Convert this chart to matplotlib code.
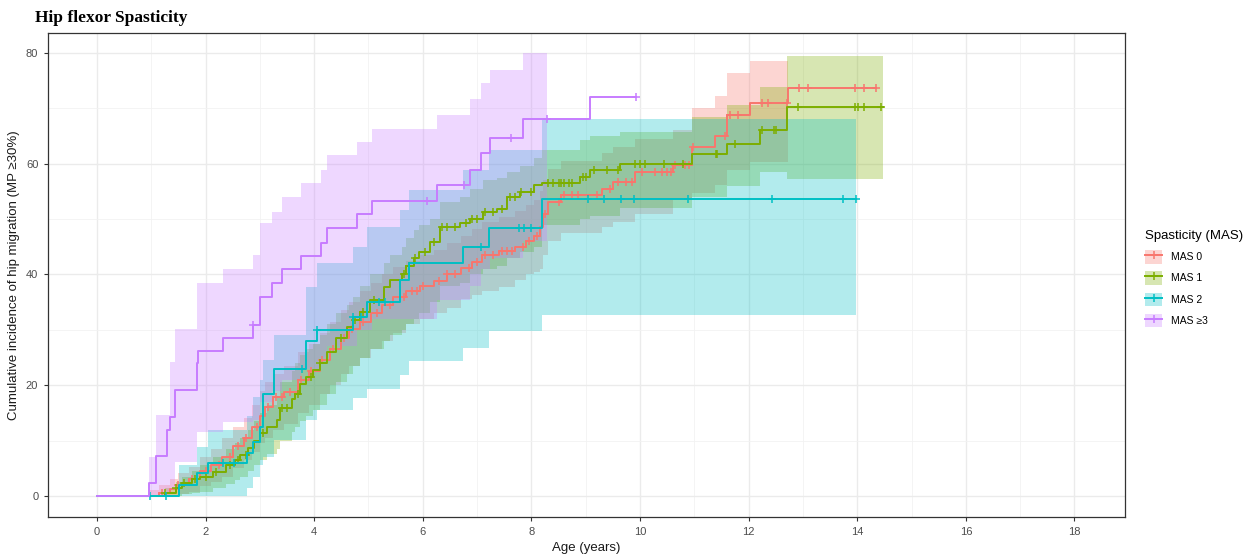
import numpy as np
import matplotlib
matplotlib.use("Agg")
import matplotlib.pyplot as plt
from matplotlib.patches import Patch
from matplotlib.lines import Line2D

plt.rcParams["font.family"] = ["Liberation Sans", "DejaVu Sans"]

# ---------------- data ----------------
groups = ["MAS 0", "MAS 1", "MAS 2", "MAS \u22653"]
colors = ["#F8766D", "#7CAE00", "#00BFC4", "#C77CFF"]

# MAS 0 step curve
mas0_t = [0, 0.95, 1.15, 1.35, 1.5, 1.7, 1.9, 2.1, 2.3, 2.5, 2.7, 2.85, 3.0, 3.1, 3.25, 3.45, 3.7, 3.9,
          4.1, 4.3, 4.5, 4.65, 4.85, 5.05, 5.25, 5.45, 5.7, 5.95, 6.2, 6.45, 6.7, 6.9, 7.1, 7.4, 7.7,
          7.9, 8.05, 8.15, 8.22, 8.3, 8.55, 9.3, 9.5, 9.9, 10.6, 10.95, 11.38, 11.6, 12.03, 12.73]
mas0_v = [0, 0, 0.5, 1.2, 2, 3, 4.5, 5.5, 7, 9, 10.5, 12.5, 14.5, 16, 17.8, 18.8, 21, 22.5,
          24.5, 26.5, 28.5, 30.2, 31.5, 33, 34.5, 36, 37, 38, 38.8, 40, 41.2, 42.3, 43.5, 44.2, 45,
          46, 47, 48.5, 51, 53, 54.3, 55.4, 56.7, 58.5, 59.7, 63.1, 65.0, 68.8, 71.0, 73.6]
mas0_end = 14.35
mas0_band_t = [0.95, 1.15, 1.35, 1.5, 1.7, 1.9, 2.1, 2.3, 2.5, 2.7, 2.85, 3.0, 3.1, 3.25, 3.45, 3.7,
               3.9, 4.1, 4.3, 4.5, 4.65, 4.85, 5.05, 5.25, 5.45, 5.7, 5.95, 6.2, 6.45, 6.7, 6.9, 7.1,
               7.4, 7.7, 7.9, 8.05, 8.15, 8.22, 8.3, 8.55, 9.3, 9.5, 9.9, 10.6, 10.95, 11.38, 11.6, 12.03]
mas0_lo = [0, 0, 0, 0.3, 0.8, 1.8, 2.5, 3.5, 5, 6.5, 8, 9.5, 10.5, 12, 13, 15,
           16.5, 18.5, 20, 22, 23.5, 25, 26.5, 28, 29.5, 31, 32, 33, 34, 35.5, 36.3, 37,
           37.8, 39, 40, 40.5, 41, 43.5, 46, 47.5, 48.5, 49.5, 51, 53.4, 54.7, 56.1, 58.8, 60.3]
mas0_hi = [1, 2, 3, 4.2, 5.3, 7, 8.5, 10.5, 12.5, 14, 16.5, 19, 20.5, 22, 23.5, 26,
           27.5, 29.5, 31.5, 33.5, 35, 37, 38.5, 40, 41.3, 42.5, 43.5, 44.5, 45.7, 47, 48.2, 49.5,
           50.3, 51.5, 52.5, 53.5, 55, 57, 59, 60.5, 62, 63, 64.5, 66, 70, 72.2, 76.4, 78.6]
mas0_band_end = 12.73
mas0_cens = [1.2, 1.5, 1.75, 2.0, 2.25, 2.45, 2.6, 2.75, 2.95, 3.15, 3.3, 3.4, 3.55, 3.75, 3.95, 4.15,
             4.35, 4.55, 4.7, 4.9, 5.15, 5.4, 5.65, 5.8, 5.9, 6.0, 6.3, 6.45, 6.6, 6.85, 7.0, 7.15,
             7.3, 7.45, 7.55, 7.65, 7.85, 7.95, 8.1, 8.25, 8.5, 8.6, 8.75, 8.85, 9.2, 9.45, 9.6,
             9.75, 9.85, 10.03, 10.28, 10.4, 10.49, 10.58, 10.64, 10.83, 10.91, 10.98, 11.57,
             11.65, 11.8, 12.24, 12.36, 12.7, 12.93, 13.09, 13.96, 14.12, 14.35]

# MAS 1 step curve
mas1_t = [0, 1.2, 1.25, 1.45, 1.56, 1.75, 1.9, 2.14, 2.38, 2.55, 2.63, 2.79, 2.9, 3.0, 3.13, 3.31, 3.37,
          3.6, 3.65, 3.74, 3.85, 3.98, 4.1, 4.23, 4.4, 4.6, 4.72, 4.85, 5.03, 5.28, 5.4, 5.61, 5.7,
          5.83, 5.94, 6.13, 6.32, 6.69, 6.87, 7.11, 7.36, 7.55, 7.79, 8.04, 8.2, 8.9, 9.08, 9.63,
          10.95, 11.6, 12.21, 12.70]
mas1_v = [0, 0, 0.5, 1.5, 2.3, 3, 3.5, 4.4, 5.6, 6.5, 7.4, 8.6, 10, 11.3, 12.5, 13.7, 15.8,
          17.5, 18.5, 20.3, 21.5, 22.7, 24, 26.0, 28.5, 30.5, 31.8, 33.3, 35.4, 37.8, 39, 40, 41.5,
          42.9, 44.1, 45.9, 48.6, 49.2, 50.1, 51.3, 51.9, 54, 54.9, 56.1, 56.5, 57.6, 58.8, 60.0,
          61.7, 63.5, 66.1, 70.3]
mas1_end = 14.47
mas1_band_t = [1.2, 1.25, 1.45, 1.56, 1.75, 1.9, 2.14, 2.38, 2.55, 2.63, 2.79, 2.9, 3.0, 3.13, 3.31,
               3.37, 3.6, 3.65, 3.74, 3.85, 3.98, 4.1, 4.23, 4.4, 4.6, 4.72, 4.85, 5.03, 5.28, 5.4,
               5.61, 5.7, 5.83, 5.94, 6.13, 6.32, 6.69, 6.87, 7.11, 7.36, 7.55, 7.79, 8.04, 8.2, 8.9,
               9.08, 9.63, 10.95, 11.6, 12.21, 12.70]
mas1_lo = [0, 0, 0, 0.3, 0.5, 0.8, 1.5, 2.2, 2.8, 3.5, 4.5, 5.5, 6.5, 7.5, 8.5,
           10, 11.5, 12.5, 13.5, 14.5, 15.5, 16.5, 18.5, 20.5, 22, 23.5, 25, 26.5, 28, 29,
           30, 31, 32, 33, 35, 38, 38.5, 40, 41, 41.5, 43, 44, 45, 49, 50,
           50.5, 52, 54, 56, 58.5, 57.2]
mas1_hi = [0.5, 1.5, 2.5, 3.5, 4.5, 5.5, 7, 8.5, 9.5, 10.5, 12, 13.5, 15, 16.5, 18,
           20.5, 22.5, 24, 25.5, 26.5, 27.5, 29, 31, 33, 34.5, 36, 38, 40, 42, 43.5,
           45, 46.5, 48, 49, 50, 53, 54, 55.5, 57, 57.5, 58.5, 59.5, 61, 62.5, 64.3,
           65, 65.8, 68.5, 70.6, 73.9, 79.5]
mas1_band_end = 14.47
mas1_cens = [1.25, 1.45, 1.6, 1.8, 2.0, 2.2, 2.45, 2.6, 2.75, 3.05, 3.4, 3.5, 3.7, 3.95, 4.1, 4.5,
             4.75, 4.9, 5.1, 5.65, 5.75, 5.85, 6.05, 6.2, 6.35, 6.45, 6.6, 6.8, 6.9, 7.0, 7.15, 7.3,
             7.45, 7.6, 7.7, 7.8, 8.0, 8.3, 8.4, 8.5, 8.55, 8.6, 8.7, 8.75, 8.95, 9.0, 9.15, 9.4,
             9.6, 9.9, 10.0, 10.1, 10.45, 10.8, 11.4, 11.42, 11.75, 12.24, 12.46, 12.5, 12.9,
             13.96, 14.02, 14.12, 14.43]

# MAS 2 step curve
mas2_t = [0, 0.96, 1.52, 1.85, 2.05, 2.77, 2.87, 3.0, 3.05, 3.26, 3.85, 4.06, 4.72, 4.97, 5.59, 5.75,
          6.75, 7.22, 8.19]
mas2_v = [0, 0, 2.0, 4.1, 5.9, 7.8, 9.8, 12.5, 18.5, 23.0, 27.9, 30.0, 32.4, 35.0, 39.0, 42.0,
          45.0, 48.4, 53.6]
mas2_end = 13.98
mas2_band_t = [1.52, 1.85, 2.05, 2.77, 2.87, 3.0, 3.05, 3.26, 3.85, 4.06, 4.72, 4.97, 5.59, 5.75,
               6.75, 7.22, 8.19]
mas2_lo = [0, 0, 0, 1.4, 3.5, 5.5, 7.1, 10.1, 13.7, 15.5, 17.6, 19.4, 21.8, 24.3, 26.7, 29.7, 32.7]
mas2_hi = [5.6, 8.9, 11.9, 14.5, 17.9, 21, 24.5, 29.1, 37.8, 42.0, 45.0, 48.5, 51.6, 55.2, 58.8, 62.5, 68.0]
mas2_band_end = 13.98
mas2_cens = [0.98, 1.27, 2.33, 2.53, 3.77, 4.06, 4.72, 4.86, 5.2, 5.3, 7.07, 7.78, 7.87, 8.0,
             9.05, 9.34, 9.65, 9.89, 10.89, 12.43, 13.73, 13.98]

# MAS >=3 step curve
mas3_t = [0, 0.96, 1.09, 1.30, 1.34, 1.44, 1.85, 1.87, 2.33, 2.87, 3.0, 3.23, 3.41, 3.76, 4.13, 4.23,
          4.79, 5.07, 6.26, 6.87, 7.07, 7.24, 7.85, 9.08]
mas3_v = [0, 2.3, 7.2, 12.0, 14.3, 19.1, 24.0, 26.2, 28.6, 30.9, 36.0, 38.4, 40.9, 43.3, 45.7, 48.3,
          50.9, 53.2, 56.1, 58.8, 61.9, 64.7, 68.0, 72.0]
mas3_end = 9.93
mas3_band_t = [0.96, 1.09, 1.34, 1.44, 1.85, 2.33, 2.87, 3.0, 3.23, 3.41, 3.76, 4.13, 4.23, 4.79,
               5.07, 6.26, 6.87, 7.07, 7.24, 7.85]
mas3_lo = [0, 0, 1.5, 6.2, 11.6, 13.4, 13.7, 17, 19, 21, 23, 25, 27, 30, 32, 35.4, 38, 41, 43, 46]
mas3_hi = [7.1, 14.6, 24.2, 30.1, 38.4, 40.9, 43.6, 49.2, 51.3, 54.0, 56.6, 58.8, 61.6, 64.0,
           66.2, 68.8, 71.6, 74.5, 77.0, 80.0]
mas3_band_end = 8.29
mas3_cens = [2.87, 6.07, 6.76, 7.62, 8.29, 9.93]

series = [
    (mas0_t, mas0_v, mas0_end, mas0_band_t, mas0_lo, mas0_hi, mas0_band_end, mas0_cens),
    (mas1_t, mas1_v, mas1_end, mas1_band_t, mas1_lo, mas1_hi, mas1_band_end, mas1_cens),
    (mas2_t, mas2_v, mas2_end, mas2_band_t, mas2_lo, mas2_hi, mas2_band_end, mas2_cens),
    (mas3_t, mas3_v, mas3_end, mas3_band_t, mas3_lo, mas3_hi, mas3_band_end, mas3_cens),
]

x_ticks = [0, 2, 4, 6, 8, 10, 12, 14, 16, 18]
y_ticks = [0, 20, 40, 60, 80]

# ---------------- figure ----------------
W, H = 1247, 554
fig = plt.figure(figsize=(W / 100, H / 100), dpi=100)
ax = fig.add_axes([48 / W, 1 - 517 / H, (1125 - 48) / W, (517 - 33) / H])

ax.set_xlim(-0.9, 18.93)
ax.set_ylim(-3.8, 83.6)

# grid
ax.set_xticks(x_ticks)
ax.set_yticks(y_ticks)
ax.set_xticks(np.arange(1, 19, 2), minor=True)
ax.set_yticks([10, 30, 50, 70], minor=True)
ax.grid(which="major", color="#EBEBEB", linewidth=1.0)
ax.grid(which="minor", color="#F2F2F2", linewidth=0.6)
ax.set_axisbelow(True)
ax.tick_params(which="minor", length=0)
ax.tick_params(which="major", length=3, color="#333333", labelsize=8, labelcolor="#4D4D4D",
               width=0.8, pad=4)
for s in ax.spines.values():
    s.set_color("#333333")
    s.set_linewidth(0.9)

# bands
for (t, v, end, bt, lo, hi, bend, cens), c in zip(series, colors):
    bt2 = list(bt) + [bend]
    lo2 = list(lo) + [lo[-1]]
    hi2 = list(hi) + [hi[-1]]
    ax.fill_between(bt2, lo2, hi2, step="post", color=c, alpha=0.3, linewidth=0)

# lines and censor marks
for (t, v, end, bt, lo, hi, bend, cens), c in zip(series, colors):
    t2 = list(t) + [end]
    v2 = list(v) + [v[-1]]
    ax.step(t2, v2, where="post", color=c, linewidth=1.4)
    ta = np.array(t)
    idx = np.searchsorted(ta, np.array(cens), side="right") - 1
    cv = np.array(v)[idx]
    ax.plot(cens, cv, linestyle="none", marker="+", markersize=6, markeredgewidth=1.1, color=c)

ax.set_xlabel("Age (years)", fontsize=9.5, color="#1A1A1A", labelpad=4)
ax.set_ylabel("Cumulative incidence of hip migration (MP \u226530%)", fontsize=9.5,
              color="#1A1A1A", labelpad=4)

fig.text(35 / W, 1 - 18 / H, "Hip flexor Spasticity", fontsize=12.5, fontweight="bold",
         family="Liberation Serif", va="center", ha="left")

# legend
handles = []
for c in colors:
    p = Patch(facecolor=c, alpha=0.3, edgecolor="none")
    l = Line2D([], [], color=c, linewidth=1.4, marker="+", markersize=6, markeredgewidth=1.1)
    handles.append((p, l))
leg = fig.legend(handles, groups, loc="upper left", bbox_to_anchor=(1136 / W, 1 - 221 / H),
                 frameon=False, title="Spasticity (MAS)", title_fontsize=9.5, fontsize=7.5,
                 handlelength=1.6, handleheight=1.6, labelspacing=0.75, alignment="left",
                 handletextpad=0.9)

fig.savefig("out.png", dpi=100)
